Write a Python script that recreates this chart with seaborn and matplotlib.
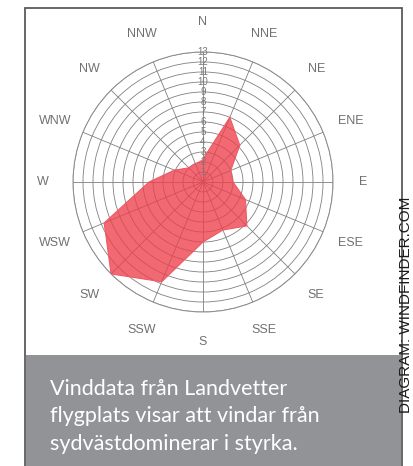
import numpy as np
import matplotlib.pyplot as plt
import seaborn as sns
from matplotlib.patches import Rectangle

# wind strength per direction
directions = ['N', 'NNE', 'NE', 'ENE', 'E', 'ESE', 'SE', 'SSE',
              'S', 'SSW', 'SW', 'WSW', 'W', 'WNW', 'NW', 'NNW']
strength = [2.3, 7.0, 5.2, 3.0, 3.0, 4.6, 6.2, 5.2,
            6.0, 10.8, 13.0, 10.7, 5.4, 3.1, 2.0, 2.0]
rings = list(range(1, 14))
caption = ['Vinddata från Landvetter',
           'flygplats visar att vindar från',
           'sydvästdominerar i styrka.']
credit = 'DIAGRAM: WINDFINDER.COM'

sns.set_theme(style='white')
plt.rcParams['font.family'] = ['Liberation Sans', 'DejaVu Sans']

W, H = 414, 466
fig = plt.figure(figsize=(W / 100, H / 100), dpi=100)

# frame and grey caption box
fig.add_artist(Rectangle((25 / W, -0.01), 377 / W, 1 - 8 / H + 0.01,
                         transform=fig.transFigure, facecolor='white',
                         edgecolor='#5a5a5a', linewidth=1.3, zorder=0))
fig.add_artist(Rectangle((26 / W, -0.01), 375 / W, 1 - 355 / H + 0.01,
                         transform=fig.transFigure, facecolor='#929397',
                         edgecolor='none', zorder=1))

# polar chart, centre (203,182) px, radius 130 px
cx, cy, R = 203, 182, 130
ax = fig.add_axes([(cx - R) / W, 1 - (cy + R) / H, 2 * R / W, 2 * R / H],
                  projection='polar')
ax.set_theta_zero_location('N')
ax.set_theta_direction(-1)
ax.set_ylim(0, 13)
ax.patch.set_alpha(0)

angles = np.deg2rad(np.arange(len(directions)) * 22.5)
theta = np.append(angles, angles[0])
vals = np.append(strength, strength[0])

ax.fill(theta, vals, color='#EE3F4C', alpha=0.78, zorder=3, linewidth=0)
sns.lineplot(x=theta, y=vals, sort=False, ax=ax, color='#EE5A64',
             linewidth=0.8, zorder=4)

ax.set_xticks(angles)
ax.set_xticklabels([])
ax.set_yticks(rings)
ax.set_yticklabels([])
ax.grid(True, color='#808080', linewidth=0.6)
for gl in ax.get_xgridlines() + ax.get_ygridlines():
    gl.set_zorder(2)
ax.spines['polar'].set_color('#8a8a8a')
ax.spines['polar'].set_linewidth(0.7)
ax.set_xlabel('')
ax.set_ylabel('')

for a, lab in zip(angles, directions):
    ax.text(a, 16, lab, ha='center', va='center', fontsize=9,
            color='#707070', clip_on=False)
for r in rings:
    ax.text(0, r, str(r), ha='center', va='center', fontsize=7,
            color='#7a7a7a', zorder=6)

# caption
for i, line in enumerate(caption):
    fig.text(50 / W, 1 - (395 + 27.5 * i) / H, line, fontsize=15.5,
             color='white', ha='left', va='baseline',
             family=['Lato', 'DejaVu Sans'], zorder=2)

fig.text(413.5 / W, 1 - 305 / H, credit, rotation=90, fontsize=11,
         color='#1a1a1a', ha='right', va='center')

fig.savefig('out.png', dpi=100)
